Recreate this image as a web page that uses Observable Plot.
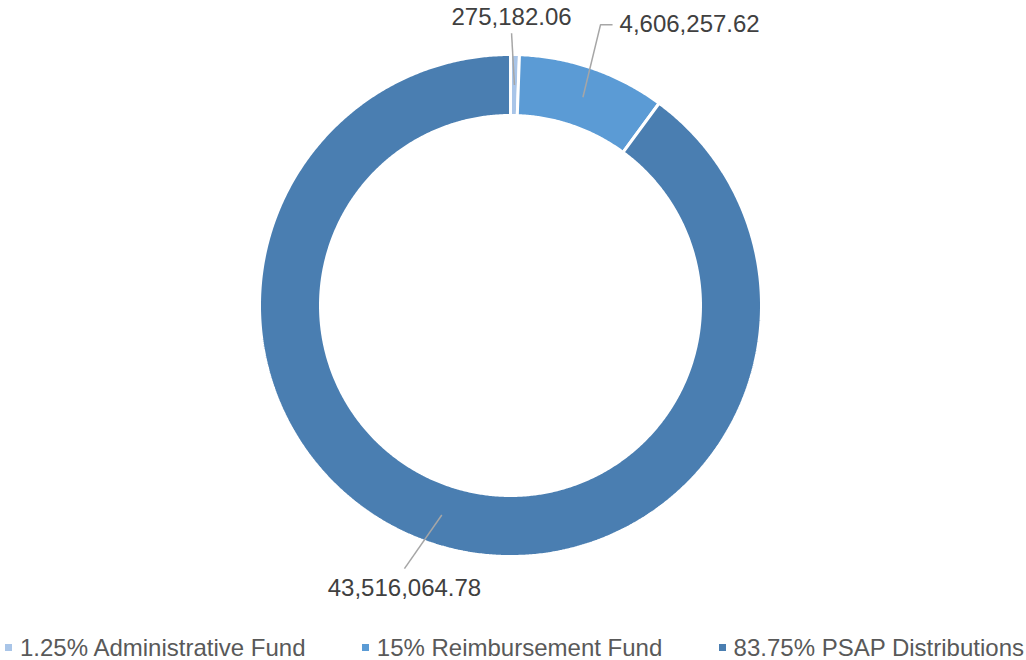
<!DOCTYPE html>
<html>
<head>
<meta charset="utf-8">
<script src="https://cdn.jsdelivr.net/npm/d3@7"></script>
<script src="https://cdn.jsdelivr.net/npm/@observablehq/plot@0.6"></script>
<style>
  html, body { margin: 0; padding: 0; background: #fff; }
  body { width: 1026px; height: 660px; overflow: hidden; font-family: "Liberation Sans", Arial, sans-serif; }
  #legend { display: flex; justify-content: space-between; height: 35px; padding: 10px 2px 0 5px; box-sizing: border-box;
            font-size: 24px; line-height: 26px; color: #595959; white-space: nowrap; }
  #legend .item { display: flex; align-items: center; }
  #legend .sw { width: 7px; height: 7px; margin-right: 8px; }
</style>
</head>
<body>
<div id="chart"></div>
<div id="legend"></div>
<script>
// ---- data ----
const categories = ["1.25% Administrative Fund", "15% Reimbursement Fund", "83.75% PSAP Distributions"];
const values = [275182.06, 4606257.62, 43516064.78];
const colors = ["#a9c5e8", "#5b9bd5", "#4a7eb1"];

// ---- layout constants ----
const W = 1026, H = 625, CX = 510, CY = 305, R = 251;
const innerR = 190 / R;           // ring inner radius (data units, outer = 1)
const midR = (1 + innerR) / 2;    // leader start radius
// leader end placement per slice: [angle offset (deg), radius], text offset [dx, dy] px
const leaderLayout = [
  {da: -0.8, r: 1.085, dx: 0, dy: -16, anchor: "middle", elbow: 0},
  {da: -1.4, r: 1.175, dx: 19, dy: 0, anchor: "start", elbow: 12},
  {da: 3.8, r: 1.13, dx: 0, dy: 20, anchor: "middle", elbow: 0}
];

const fmt = d3.format(",.2f");
const pie = d3.pie().sort(null).value(d => d)(values);

// ring polygons in data units (angle clockwise from 12 o'clock, y up)
const pt = (a, r) => ({x: r * Math.sin(a), y: r * Math.cos(a)});
const ring = [];
pie.forEach((p, i) => {
  const a0 = p.startAngle, a1 = p.endAngle;
  const n = Math.max(2, Math.ceil((a1 - a0) / (0.4 * Math.PI / 180)));
  const poly = [];
  for (let k = 0; k <= n; k++) poly.push(pt(a0 + (a1 - a0) * k / n, 1));
  for (let k = n; k >= 0; k--) poly.push(pt(a0 + (a1 - a0) * k / n, innerR));
  poly.push(poly[0]);
  poly.forEach(q => ring.push({cat: categories[i], x: q.x, y: q.y}));
});

// leaders and labels
const leaders = [];
const labels = [];
pie.forEach((p, i) => {
  const L = leaderLayout[i];
  const m = (p.startAngle + p.endAngle) / 2;
  const s = pt(m, midR);
  const e = pt(m + L.da * Math.PI / 180, L.r);
  leaders.push({id: i, x: s.x, y: s.y});
  leaders.push({id: i, x: e.x, y: e.y});
  if (L.elbow) leaders.push({id: i, x: e.x + L.elbow / R, y: e.y});
  labels.push({x: e.x, y: e.y, text: fmt(values[i]), dx: L.dx, dy: L.dy, anchor: L.anchor});
});

const chart = Plot.plot({
  width: W, height: H,
  marginTop: 0, marginRight: 0, marginBottom: 0, marginLeft: 0,
  style: {fontFamily: '"Liberation Sans", Arial, sans-serif', background: "#fff"},
  x: {domain: [-CX / R, (W - CX) / R], axis: null},
  y: {domain: [-(H - CY) / R, CY / R], axis: null},
  color: {domain: categories, range: colors},
  marks: [
    Plot.line(ring, {x: "x", y: "y", z: "cat", fill: "cat", stroke: "#fff", strokeWidth: 3, strokeLinejoin: "miter", curve: "linear"}),
    Plot.line(leaders, {x: "x", y: "y", z: "id", stroke: "#a6a6a6", strokeWidth: 1.5, strokeLinejoin: "miter", strokeLinecap: "butt"}),
    ...labels.map(l => Plot.text([l], {x: "x", y: "y", text: "text", dx: l.dx, dy: l.dy, textAnchor: l.anchor, fontSize: 24, fill: "#404040"}))
  ]
});
document.getElementById("chart").append(chart);

const legend = document.getElementById("legend");
categories.forEach((c, i) => {
  const it = document.createElement("div");
  it.className = "item";
  const sw = document.createElement("span");
  sw.className = "sw";
  sw.style.background = colors[i];
  const tx = document.createElement("span");
  tx.textContent = c;
  it.append(sw, tx);
  legend.append(it);
});
</script>
</body>
</html>
